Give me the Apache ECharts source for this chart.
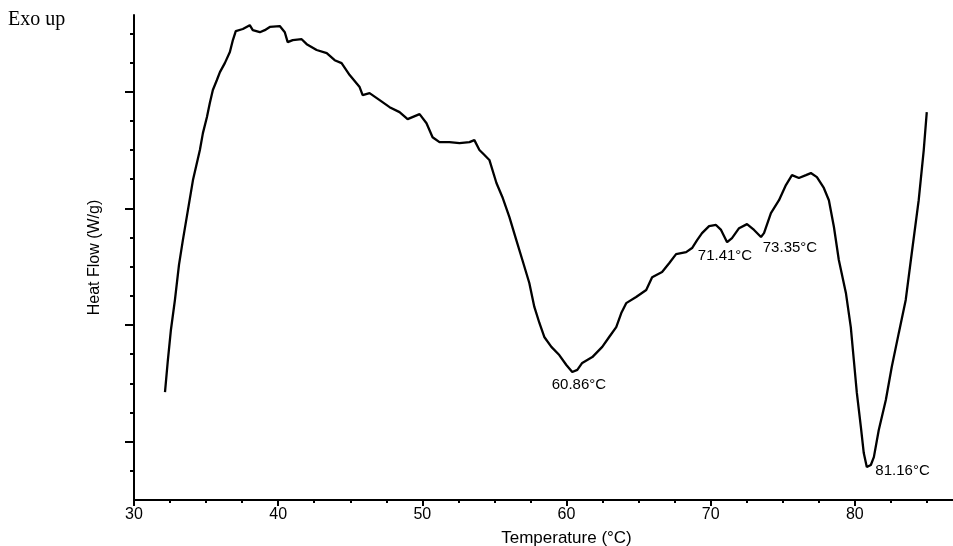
<!DOCTYPE html>
<html><head><meta charset="utf-8">
<script src="https://cdn.jsdelivr.net/npm/echarts@6/dist/echarts.min.js"></script>
<style>html,body{margin:0;padding:0;background:#fff}#c{width:953px;height:546px}</style>
</head><body><div id="c"></div>
<script>
// Temperature (°C)
const temperature = [32.15,32.35,32.56,32.84,33.12,33.39,33.74,34.09,34.57,34.78,35.06,35.26,35.47,35.75,35.96,36.30,36.65,36.86,37.06,37.55,38.03,38.24,38.73,39.07,39.42,40.11,40.46,40.66,41.01,41.63,41.98,42.67,43.37,43.92,44.40,44.96,45.65,45.86,46.34,47.04,47.73,48.42,48.98,49.81,50.29,50.71,51.19,51.88,52.58,53.27,53.61,53.96,54.31,54.65,55.14,55.55,56.04,56.52,56.94,57.42,57.77,58.12,58.46,58.95,59.50,59.99,60.40,60.75,61.09,61.79,62.48,62.96,63.45,63.80,64.14,64.83,65.53,65.94,66.63,67.12,67.60,68.30,68.71,69.06,69.40,69.89,70.37,70.72,71.14,71.48,71.97,72.52,73.01,73.49,73.70,74.18,74.74,75.22,75.64,76.12,76.61,76.95,77.37,77.85,78.20,78.55,78.89,79.38,79.72,79.93,80.14,80.42,80.62,80.83,81.11,81.32,81.66,82.15,82.56,83.05,83.53,83.95,84.43,84.78,84.99];
// Heat flow (W/g), arbitrary offset units
const heatFlow = [3.70,4.80,5.83,6.86,8.06,8.91,9.94,10.97,12.00,12.58,13.13,13.61,14.06,14.40,14.67,14.98,15.36,15.77,16.08,16.15,16.28,16.11,16.04,16.11,16.22,16.25,16.04,15.70,15.77,15.80,15.63,15.43,15.32,15.08,14.98,14.57,14.16,13.88,13.95,13.71,13.47,13.30,13.06,13.23,12.92,12.44,12.27,12.27,12.24,12.27,12.34,12.00,11.83,11.66,10.87,10.39,9.70,8.91,8.23,7.44,6.62,6.07,5.59,5.25,4.97,4.63,4.39,4.46,4.70,4.90,5.25,5.59,5.93,6.41,6.75,6.96,7.20,7.64,7.82,8.12,8.43,8.50,8.64,8.91,9.15,9.39,9.43,9.26,8.84,8.98,9.32,9.46,9.26,9.02,9.15,9.84,10.28,10.80,11.14,11.04,11.14,11.21,11.07,10.70,10.28,9.36,8.23,7.10,5.93,4.80,3.67,2.50,1.61,1.13,1.20,1.47,2.40,3.43,4.56,5.73,6.86,8.47,10.28,12.00,13.30];
// Peak annotations
const peakTemps = [60.86, 71.41, 73.35, 81.16];
const peakFlows = [4.50, 8.90, 9.10, 1.20];
const peakLabels = ['60.86°C', '71.41°C', '73.35°C', '81.16°C'];
const peakOffsets = [[0, 16], [-6, 15], [31, 13], [31, 6]];
// Y ticks (no labels)
const yMajorTicks = [2, 6, 10, 14];
const yMinorTicks = [1, 3, 4, 5, 7, 8, 9, 11, 12, 13, 15, 16];

const chart = echarts.init(document.getElementById('c'), null, {renderer: 'canvas'});
const font = 'Liberation Sans, Arial, sans-serif';
chart.setOption({
  animation: false,
  backgroundColor: '#fff',
  grid: {left: 134, right: -46, top: 15, bottom: 46, outerBoundsMode: 'none', containLabel: false},
  graphic: [{type: 'text', left: 8, top: 10, style: {text: 'Exo up', font: '20px "Liberation Serif", "Times New Roman", serif', fill: '#000'}}],
  xAxis: {
    type: 'value', min: 30, max: 90, interval: 10,
    name: 'Temperature (°C)', nameLocation: 'middle', nameGap: 30,
    nameTextStyle: {color: '#000', fontSize: 17, fontFamily: font},
    axisLine: {lineStyle: {color: '#000', width: 2}},
    axisTick: {show: true, length: 6, lineStyle: {color: '#000', width: 2}},
    minorTick: {show: true, splitNumber: 4, length: 3, lineStyle: {color: '#000', width: 2}},
    axisLabel: {color: '#000', fontSize: 16, fontFamily: font, margin: 7},
    splitLine: {show: false}
  },
  yAxis: [{
    type: 'value', min: 0, max: 16.63,
    name: 'Heat Flow (W/g)', nameLocation: 'middle', nameGap: 31, nameRotate: 90,
    nameTextStyle: {color: '#000', fontSize: 16, fontFamily: font},
    axisLine: {show: true, lineStyle: {color: '#000', width: 2}},
    axisTick: {show: true, customValues: yMajorTicks, length: 9, lineStyle: {color: '#000', width: 2}},
    axisLabel: {show: false},
    splitLine: {show: false}
  }, {
    type: 'value', min: 0, max: 16.63, position: 'left',
    axisLine: {show: false},
    axisTick: {show: true, customValues: yMinorTicks, length: 4, lineStyle: {color: '#000', width: 2}},
    axisLabel: {show: false},
    splitLine: {show: false}
  }],
  series: [{
    type: 'line', yAxisIndex: 0, showSymbol: false, smooth: false,
    lineStyle: {color: '#000', width: 2.3},
    data: temperature.map((t, i) => [t, heatFlow[i]])
  }, {
    type: 'scatter', yAxisIndex: 0, symbolSize: 1,
    itemStyle: {color: 'rgba(0,0,0,0)'},
    label: {show: true, position: 'inside', color: '#000', fontSize: 15, fontFamily: font,
      textBorderWidth: 0, textBorderColor: 'transparent', opacity: 1,
      formatter: p => p.name, offset: [0, 0]},
    data: peakTemps.map((t, i) => ({name: peakLabels[i], value: [t, peakFlows[i]], label: {offset: peakOffsets[i]}}))
  }]
});
</script></body></html>
